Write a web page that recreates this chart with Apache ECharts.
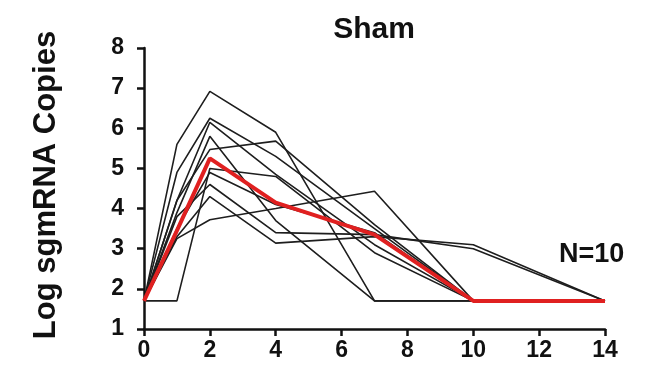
<!DOCTYPE html>
<html><head><meta charset="utf-8">
<script src="https://cdn.jsdelivr.net/npm/echarts@6/dist/echarts.min.js"></script>
<style>html,body{margin:0;padding:0;background:#fff}#c{width:652px;height:390px}</style>
</head><body><div id="c"></div>
<script>
const days = [0, 1, 2, 4, 7, 10, 14];
const xTicks = [0, 2, 4, 6, 8, 10, 12, 14];
const yTicks = [1, 2, 3, 4, 5, 6, 7, 8];
const animal1 = [1.7, 5.6, 6.92, 5.9, 1.7, 1.7, 1.7];
const animal2 = [1.7, 4.9, 6.25, 5.3, 3.5, 1.7, 1.7];
const animal3 = [1.7, 4.2, 6.15, 4.85, 3.1, 1.7, 1.7];
const animal4 = [1.7, 3.9, 5.8, 3.7, 1.7, 1.7, 1.7];
const animal5 = [1.7, 4.2, 5.47, 5.68, 3.6, 1.7, 1.7];
const animal6 = [1.7, 1.7, 5.0, 4.8, 2.9, 1.7, 1.7];
const animal7 = [1.7, 3.3, 4.3, 3.14, 3.3, 3.1, 1.7];
const animal8 = [1.7, 3.8, 4.6, 3.4, 3.35, 3.0, 1.7];
const animal9 = [1.7, 3.25, 3.72, 4.0, 4.43, 1.7, 1.7];
const animal10 = [1.7, 3.5, 4.9, 4.1, 3.4, 1.7, 1.7];
const meanValues = [1.7, 3.45, 5.25, 4.15, 3.35, 1.7, 1.7];
const animals = [animal1, animal2, animal3, animal4, animal5, animal6, animal7, animal8, animal9, animal10];

const pairs = vals => days.map((d, i) => [d, vals[i]]);
const series = animals.map(a => ({
  type: 'line', data: pairs(a), symbol: 'none', silent: true,
  lineStyle: { color: '#1e1e1e', width: 1.6 }, z: 2
}));
series.push({
  type: 'line', data: pairs(meanValues), symbol: 'none', silent: true,
  lineStyle: { color: '#e02020', width: 4 }, z: 3
});

const chart = echarts.init(document.getElementById('c'));
const FF = '"Liberation Sans", Arial, sans-serif';
chart.setOption({
  animation: false,
  backgroundColor: '#fff',
  grid: { left: 144, right: 47, top: 48, bottom: 61 },
  title: {
    text: 'Sham', left: 369, top: 10, textAlign: 'center',
    textStyle: { fontFamily: FF, fontWeight: 'bold', fontSize: 30, color: '#111' }
  },
  graphic: [
    { type: 'text', left: 559, top: 241, style: { text: 'N=10', font: 'bold 27px ' + FF, fill: '#111' } },
    { type: 'text', x: 46, y: 185, rotation: Math.PI / 2, style: { text: 'Log sgmRNA Copies', font: 'bold 31px ' + FF, fill: '#111', align: 'center', verticalAlign: 'middle' } }
  ],
  xAxis: {
    type: 'value', min: 0, max: 14, interval: 2,
    splitLine: { show: false },
    axisLine: { show: true, lineStyle: { color: '#111', width: 2.5 } },
    axisTick: { show: true, length: 7, lineStyle: { color: '#111', width: 2.5 } },
    axisLabel: { margin: 10, fontFamily: FF, fontWeight: 'bold', fontSize: 23, color: '#111',
      customValues: xTicks }
  },
  yAxis: {
    type: 'value', min: 1, max: 8, interval: 1,
    splitLine: { show: false },
    axisLine: { show: true, lineStyle: { color: '#111', width: 2.5 } },
    axisTick: { show: true, length: 7, lineStyle: { color: '#111', width: 2.5 } },
    axisLabel: { margin: 20, fontFamily: FF, fontWeight: 'bold', fontSize: 23, color: '#111' }
  },
  series: series
});
</script></body></html>
